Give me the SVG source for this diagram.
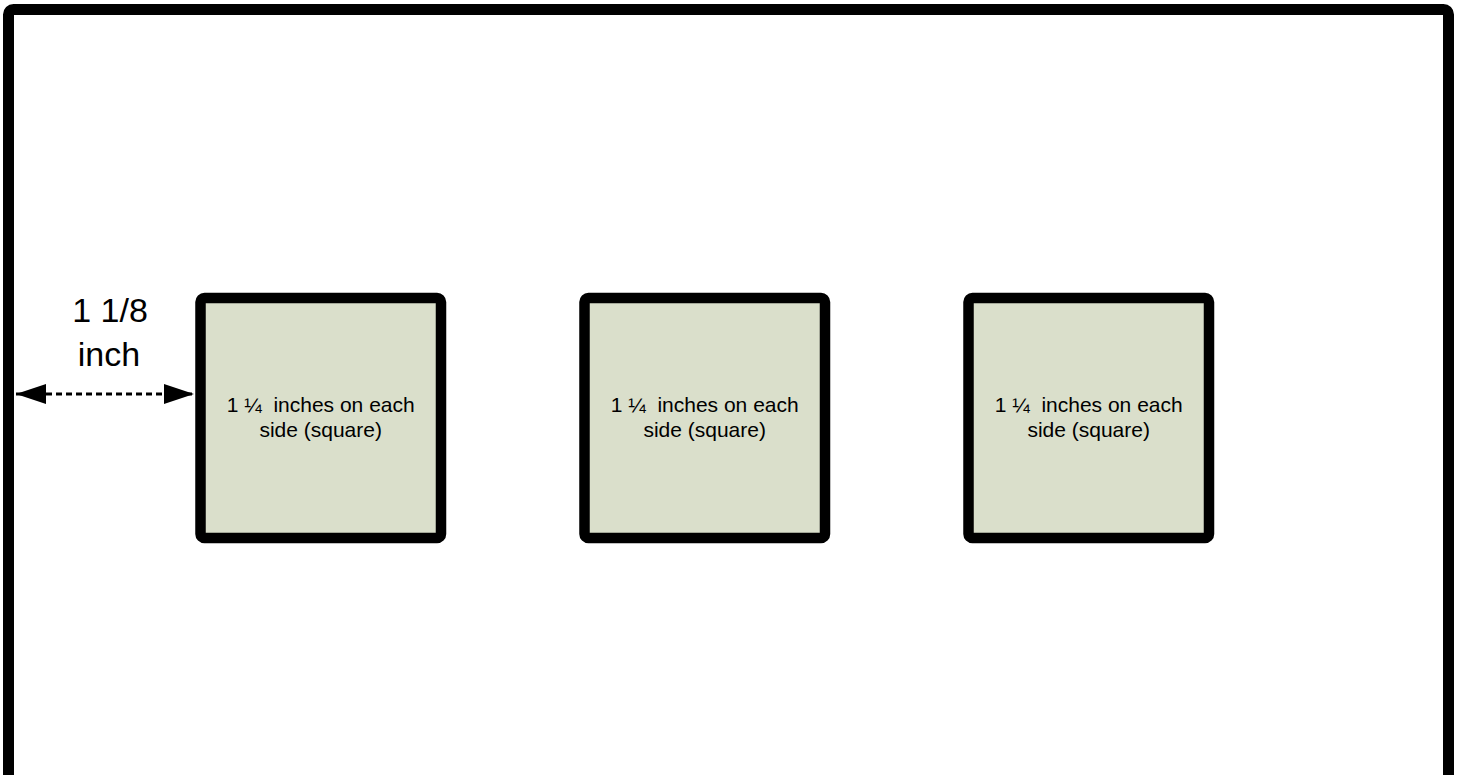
<svg xmlns="http://www.w3.org/2000/svg" width="1458" height="775" viewBox="0 0 1458 775">
  <defs>
    <style>
      .frame { fill: #ffffff; stroke: #000000; stroke-width: 11; }
      .box { fill: #dadfcb; stroke: #000000; stroke-width: 10.5; }
      .lbl { font-family: "Liberation Sans", Arial, sans-serif; font-size: 21px; fill: #000000; text-anchor: middle; white-space: pre; }
      .big { font-family: "Liberation Sans", Arial, sans-serif; font-size: 34px; fill: #000000; text-anchor: middle; }
      .dim { stroke: #000000; stroke-width: 3; stroke-dasharray: 6 4; fill: none; }
    </style>
    <marker id="ah" viewBox="0 0 30 20" refX="30" refY="10" markerWidth="30" markerHeight="20" markerUnits="userSpaceOnUse" orient="auto-start-reverse">
      <path d="M0,0 L30,10 L0,20 Z" fill="#000000"/>
    </marker>
  </defs>

  <rect width="1458" height="775" fill="#ffffff"/>

  <g id="frame">
    <rect class="frame" x="8.5" y="9.5" width="1440" height="820" rx="5"/>
  </g>

  <g id="square1">
    <rect class="box" x="200.5" y="298" width="240.5" height="240" rx="4"/>
    <text class="lbl" x="320.7" y="412" xml:space="preserve">1 ¼  inches on each</text>
    <text class="lbl" x="320.7" y="437">side (square)</text>
  </g>

  <g id="square2">
    <rect class="box" x="584.5" y="298" width="240.5" height="240" rx="4"/>
    <text class="lbl" x="704.7" y="412" xml:space="preserve">1 ¼  inches on each</text>
    <text class="lbl" x="704.7" y="437">side (square)</text>
  </g>

  <g id="square3">
    <rect class="box" x="968.5" y="298" width="240.5" height="240" rx="4"/>
    <text class="lbl" x="1088.7" y="412" xml:space="preserve">1 ¼  inches on each</text>
    <text class="lbl" x="1088.7" y="437">side (square)</text>
  </g>

  <g id="dimension-label">
    <text class="big" x="110" y="322">1 1/8</text>
    <text class="big" x="109" y="366">inch</text>
  </g>

  <g id="connectors">
    <line class="dim" x1="16" y1="394" x2="194" y2="394" marker-start="url(#ah)" marker-end="url(#ah)"/>
  </g>
</svg>
